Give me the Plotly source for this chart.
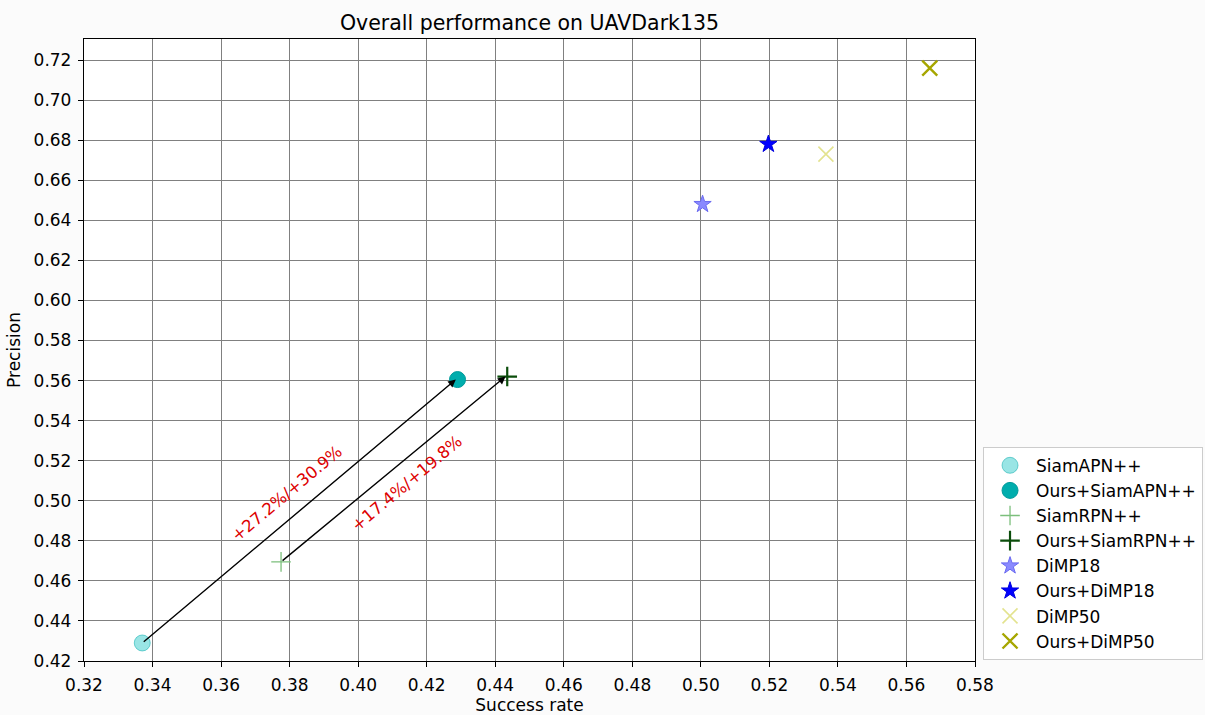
import plotly.graph_objects as go

# ---- data ----
names = ["SiamAPN++", "Ours+SiamAPN++", "SiamRPN++", "Ours+SiamRPN++",
         "DiMP18", "Ours+DiMP18", "DiMP50", "Ours+DiMP50"]
success = [0.337, 0.429, 0.3775, 0.4435, 0.5005, 0.5197, 0.5365, 0.5668]
precision = [0.429, 0.5605, 0.4695, 0.562, 0.648, 0.678, 0.673, 0.716]
gain_labels = ["+27.2%/+30.9%", "+17.4%/+19.8%"]
gain_label_pos_x = [0.3792, 0.4142]
gain_label_pos_y = [0.5035, 0.5085]
arrow_pairs = [(0, 1), (2, 3)]
x_ticks = [0.32, 0.34, 0.36, 0.38, 0.40, 0.42, 0.44, 0.46, 0.48, 0.50, 0.52, 0.54, 0.56, 0.58]
y_ticks = [0.42, 0.44, 0.46, 0.48, 0.50, 0.52, 0.54, 0.56, 0.58, 0.60, 0.62, 0.64, 0.66, 0.68, 0.70, 0.72]

# ---- styles ----
styles = [
    dict(symbol="circle", size=16, color="rgba(0,191,191,0.4)", line=dict(color="rgba(0,170,170,0.5)", width=1)),
    dict(symbol="circle", size=16, color="#00adad", line=dict(color="#009a9a", width=1)),
    dict(symbol="cross-thin", size=14, color="#7cbf7c", line=dict(color="#7cbf7c", width=1.3)),
    dict(symbol="cross-thin", size=14, color="#0b4d0b", line=dict(color="#0b4d0b", width=2.2)),
    dict(symbol="star", size=13, color="#8a8aff", line=dict(color="#6a6af0", width=1)),
    dict(symbol="star", size=13, color="#0000ff", line=dict(color="#0000dd", width=1)),
    dict(symbol="x-thin", size=15, color="#e3e38f", line=dict(color="#e3e38f", width=1.6)),
    dict(symbol="x-thin", size=15, color="#a6a600", line=dict(color="#a6a600", width=2.4)),
]

FONT = "DejaVu Sans"
fig = go.Figure()
for n, xv, yv, st in zip(names, success, precision, styles):
    fig.add_trace(go.Scatter(x=[xv], y=[yv], mode="markers", name=n, marker=st))

annotations = []
for (a, b) in arrow_pairs:
    annotations.append(dict(
        x=success[b] - 0.0005, y=precision[b], ax=success[a], ay=precision[a],
        xref="x", yref="y", axref="x", ayref="y",
        showarrow=True, arrowhead=2, arrowsize=1.1, arrowwidth=1.4,
        arrowcolor="black", text=""))
for t, tx, ty in zip(gain_labels, gain_label_pos_x, gain_label_pos_y):
    annotations.append(dict(
        x=tx, y=ty, xref="x", yref="y", text=t, showarrow=False,
        textangle=-40, font=dict(family=FONT, size=16.5, color="#dd0000")))

axis_common = dict(
    showgrid=True, gridcolor="#808080", gridwidth=1,
    showline=True, linecolor="black", linewidth=1.3, mirror=True,
    ticks="outside", ticklen=5, tickcolor="black", tickwidth=1.2,
    tickfont=dict(family=FONT, size=17, color="black"),
    ticklabelstandoff=3,
    zeroline=False,
)

fig.update_layout(
    width=1205, height=715,
    margin=dict(l=84, r=230, t=39, b=54, autoexpand=False),
    paper_bgcolor="#fbfbfb", plot_bgcolor="white",
    title=dict(text="Overall performance on UAVDark135", x=(84 + 975) / 2 / 1205,
               xanchor="center", y=1 - 22.5 / 715, yanchor="middle",
               font=dict(family=FONT, size=20.5, color="black")),
    xaxis=dict(range=[0.32, 0.58], tickvals=x_ticks,
               ticktext=[f"{v:.2f}" for v in x_ticks],
               title=dict(text="Success rate", font=dict(family=FONT, size=17, color="black"), standoff=10),
               **axis_common),
    yaxis=dict(range=[0.42, 0.7305], tickvals=y_ticks,
               ticktext=[f"{v:.2f}" for v in y_ticks],
               title=dict(text="Precision", font=dict(family=FONT, size=17, color="black"), standoff=8),
               **axis_common),
    legend=dict(x=1.009, xanchor="left", y=0.002, yanchor="bottom",
                bgcolor="white", bordercolor="#cccccc", borderwidth=1,
                font=dict(family=FONT, size=17, color="black"),
                itemwidth=42, tracegroupgap=0),
    annotations=annotations,
    showlegend=True,
)

fig.write_html("out.html")
